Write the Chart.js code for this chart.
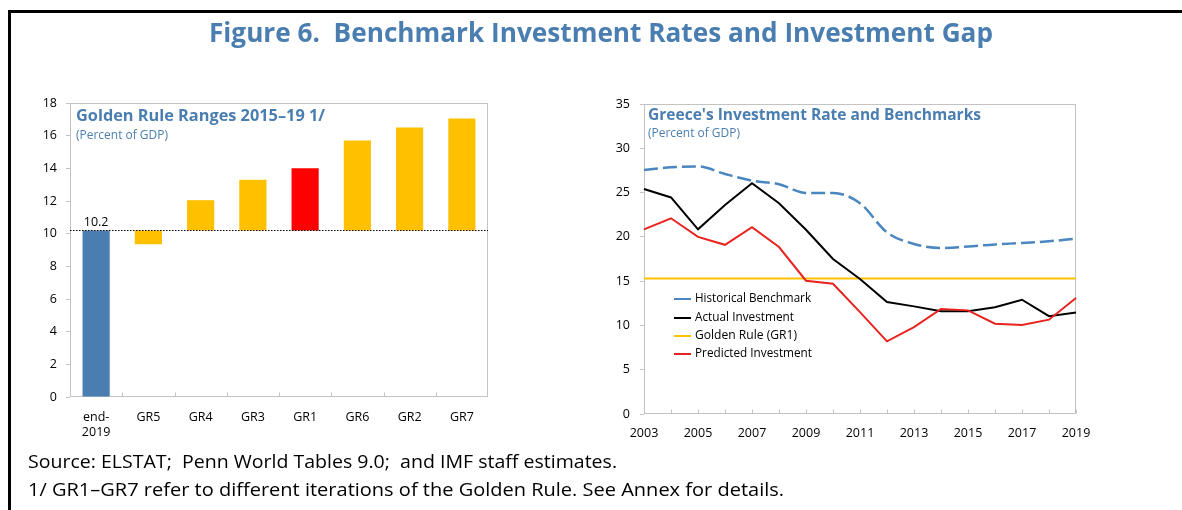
<!DOCTYPE html>
<html><head><meta charset="utf-8">
<script src="https://cdn.jsdelivr.net/npm/chart.js@4.4.1/dist/chart.umd.min.js"></script>
<style>
html,body{margin:0;padding:0;background:#fff;}
#wrap{position:relative;width:1182px;height:510px;overflow:hidden;font-family:"Open Sans","Noto Sans",sans-serif;}
canvas{position:absolute;left:0;top:0;}
.t{position:absolute;white-space:pre;line-height:1;transform-origin:0 0;}
.fr{position:absolute;background:#000;}
.lg{position:absolute;height:2px;width:17px;}
</style></head>
<body><div id="wrap">
<div class="fr" style="left:8px;top:10px;width:1174px;height:3px;"></div>
<div class="fr" style="left:8px;top:10px;width:3px;height:500px;"></div>
<canvas id="c1" width="1182" height="510"></canvas>
<canvas id="c2" width="1182" height="510"></canvas>

<div class="t" data-w="784" style="left:209px;top:19px;font-size:26px;font-weight:700;color:#4a7eb0;">Figure 6.  Benchmark Investment Rates and Investment Gap</div>

<div class="t" data-w="249" style="left:76px;top:107px;font-size:16px;font-weight:700;color:#4a7eb0;">Golden Rule Ranges 2015–19 1/</div>
<div class="t" data-w="92" style="left:76px;top:129px;font-size:12px;color:#4a7eb0;">(Percent of GDP)</div>

<div class="t" data-w="333" style="left:648px;top:106px;font-size:16px;font-weight:700;color:#4a7eb0;">Greece's Investment Rate and Benchmarks</div>
<div class="t" data-w="92" style="left:648px;top:127px;font-size:12px;color:#4a7eb0;">(Percent of GDP)</div>

<div class="lg" style="left:674px;top:298px;background:#4a86c0;"></div>
<div class="t" data-w="116" style="left:695px;top:292px;font-size:12.5px;color:#000;">Historical Benchmark</div>
<div class="lg" style="left:674px;top:317px;background:#000;"></div>
<div class="t" data-w="99" style="left:695px;top:311px;font-size:12.5px;color:#000;">Actual Investment</div>
<div class="lg" style="left:674px;top:335px;background:#ffc000;"></div>
<div class="t" data-w="102" style="left:695px;top:329px;font-size:12.5px;color:#000;">Golden Rule (GR1)</div>
<div class="lg" style="left:674px;top:353px;background:#e8231f;"></div>
<div class="t" data-w="117" style="left:695px;top:347px;font-size:12.5px;color:#000;">Predicted Investment</div>

<div class="t" data-w="589" style="left:28px;top:452px;font-size:18px;color:#000;">Source: ELSTAT;  Penn World Tables 9.0;  and IMF staff estimates.</div>
<div class="t" data-w="756" style="left:28px;top:480px;font-size:18px;color:#000;">1/ GR1–GR7 refer to different iterations of the Golden Rule. See Annex for details.</div>
</div>
<script>
// ---------- Data: left panel ----------
const barCategories = [['end-','2019'], 'GR5', 'GR4', 'GR3', 'GR1', 'GR6', 'GR2', 'GR7'];
const barStart = [0, 10.2, 10.2, 10.2, 10.2, 10.2, 10.2, 10.2];
const barEnd   = [10.2, 9.35, 12.05, 13.3, 14.0, 15.7, 16.5, 17.05];
const currentRate = 10.2;
const leftTicks = [0, 2, 4, 6, 8, 10, 12, 14, 16, 18];
const barColors = ['#4a7eb0', '#ffc000', '#ffc000', '#ffc000', '#ff0000', '#ffc000', '#ffc000', '#ffc000'];

// ---------- Data: right panel ----------
const years = ['2003','2004','2005','2006','2007','2008','2009','2010','2011','2012','2013','2014','2015','2016','2017','2018','2019'];
const historicalBenchmark = [27.55, 27.85, 27.95, 27.1, 26.35, 25.95, 24.95, 24.95, 23.8, 20.5, 19.2, 18.75, 18.9, 19.15, 19.3, 19.5, 19.8];
const actualInvestment    = [25.4, 24.45, 20.85, 23.6, 26.05, 23.8, 20.8, 17.5, 15.25, 12.65, 12.15, 11.6, 11.6, 12.05, 12.9, 11.05, 11.45];
const goldenRuleGR1       = [15.3, 15.3, 15.3, 15.3, 15.3, 15.3, 15.3, 15.3, 15.3, 15.3, 15.3, 15.3, 15.3, 15.3, 15.3, 15.3, 15.3];
const predictedInvestment = [20.85, 22.1, 20.0, 19.1, 21.1, 18.85, 15.05, 14.7, 11.5, 8.2, 9.8, 11.85, 11.7, 10.2, 10.05, 10.65, 13.1];
const rightTicks = [0, 5, 10, 15, 20, 25, 30, 35];

Chart.defaults.font.family = '"Open Sans","Noto Sans",sans-serif';
Chart.defaults.font.size = 12.5;
Chart.defaults.color = '#000';

const frameColor = '#c3c3c3';

const framePlugin = {
  id: 'framePlugin',
  beforeDatasetsDraw(chart, args, opts) {
    const {ctx, chartArea: a} = chart;
    const xs = chart.scales.x;
    ctx.save();
    ctx.strokeStyle = frameColor;
    ctx.lineWidth = 1;
    const L = Math.round(a.left) + 0.5, R = Math.round(a.right) - 0.5;
    const T = Math.round(a.top) + 0.5, B = Math.round(a.bottom) - 0.5;
    ctx.strokeRect(L, T, R - L, B - T);
    ctx.beginPath();
    const n = xs.ticks.length;
    if (opts.between) {
      for (let i = 1; i < n; i++) {
        const px = Math.round((xs.getPixelForTick(i - 1) + xs.getPixelForTick(i)) / 2) + 0.5;
        ctx.moveTo(px, B); ctx.lineTo(px, B - 4);
      }
    } else {
      for (let i = 0; i < n; i++) {
        const px = Math.round(xs.getPixelForTick(i)) + 0.5;
        ctx.moveTo(px, B); ctx.lineTo(px, B - 4);
      }
    }
    ctx.stroke();
    ctx.restore();
  }
};

const refPlugin = {
  id: 'refPlugin',
  afterDatasetsDraw(chart) {
    const {ctx, chartArea: a} = chart;
    const ys = chart.scales.y, xs = chart.scales.x;
    const py = Math.round(ys.getPixelForValue(currentRate)) + 0.5;
    ctx.save();
    ctx.strokeStyle = '#000';
    ctx.lineWidth = 1;
    ctx.setLineDash([1.5, 1.5]);
    ctx.beginPath(); ctx.moveTo(a.left, py); ctx.lineTo(a.right, py); ctx.stroke();
    ctx.setLineDash([]);
    ctx.fillStyle = '#000';
    ctx.font = '12.5px "Open Sans","Noto Sans",sans-serif';
    ctx.textAlign = 'center';
    ctx.textBaseline = 'middle';
    ctx.fillText(String(barEnd[0]), xs.getPixelForValue(0), ys.getPixelForValue(barEnd[0]) - 8);
    ctx.restore();
  }
};

new Chart(document.getElementById('c1'), {
  type: 'bar',
  data: {
    labels: barCategories,
    datasets: [{
      data: barStart.map((s, i) => [s, barEnd[i]]),
      backgroundColor: barColors,
      borderWidth: 0,
      barPercentage: 0.52,
      categoryPercentage: 1
    }]
  },
  options: {
    responsive: false, animation: false, devicePixelRatio: 1,
    layout: { padding: { left: 30, right: 694, top: 103, bottom: 68 } },
    plugins: { legend: { display: false }, tooltip: { enabled: false }, framePlugin: { between: true } },
    scales: {
      x: {
        grid: { display: false, drawTicks: false },
        border: { display: false },
        ticks: { padding: 13, maxRotation: 0, autoSkip: false },
        afterFit(s) { s.height = 45; }
      },
      y: {
        min: 0, max: 18,
        afterBuildTicks(s) { s.ticks = leftTicks.map(v => ({ value: v })); },
        grid: { drawOnChartArea: false, drawTicks: true, tickLength: 4, color: frameColor },
        border: { display: false },
        ticks: { padding: 9 },
        afterFit(s) { s.width = 40; }
      }
    }
  },
  plugins: [framePlugin, refPlugin]
});

new Chart(document.getElementById('c2'), {
  type: 'line',
  data: {
    labels: years,
    datasets: [
      { label: 'Historical Benchmark', data: historicalBenchmark, borderColor: '#4a86c0', borderWidth: 2.5, borderDash: [14, 5], cubicInterpolationMode: 'monotone', pointRadius: 0, order: 3 },
      { label: 'Actual Investment', data: actualInvestment, borderColor: '#000000', borderWidth: 2, tension: 0, pointRadius: 0, order: 1 },
      { label: 'Golden Rule (GR1)', data: goldenRuleGR1, borderColor: '#ffc000', borderWidth: 2, tension: 0, pointRadius: 0, order: 2 },
      { label: 'Predicted Investment', data: predictedInvestment, borderColor: '#e8231f', borderWidth: 2, tension: 0, pointRadius: 0, order: 0 }
    ]
  },
  options: {
    responsive: false, animation: false, devicePixelRatio: 1,
    layout: { padding: { left: 614, right: 106, top: 104, bottom: 66 } },
    plugins: { legend: { display: false }, tooltip: { enabled: false }, framePlugin: { between: false } },
    scales: {
      x: {
        offset: false,
        grid: { display: false, drawTicks: false },
        border: { display: false },
        ticks: { padding: 12, maxRotation: 0, autoSkip: false,
          callback(v, i) { return i % 2 === 0 ? years[i] : ''; } },
        afterFit(s) { s.height = 30; }
      },
      y: {
        min: 0, max: 35,
        afterBuildTicks(s) { s.ticks = rightTicks.map(v => ({ value: v })); },
        grid: { drawOnChartArea: false, drawTicks: true, tickLength: 4, color: frameColor },
        border: { display: false },
        ticks: { padding: 10 },
        afterFit(s) { s.width = 30; }
      }
    }
  },
  plugins: [framePlugin]
});

// fit text widths to the reference
document.querySelectorAll('.t[data-w]').forEach(el => {
  const target = parseFloat(el.dataset.w);
  const w = el.getBoundingClientRect().width;
  if (w > 0) el.style.transform = 'scaleX(' + (target / w).toFixed(4) + ')';
});
</script>
</body></html>
